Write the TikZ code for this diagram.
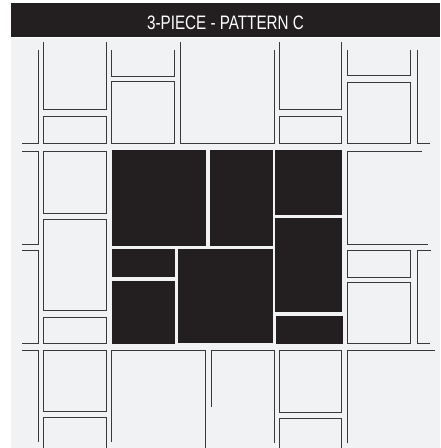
\documentclass[tikz,border=0pt]{standalone}
\usepackage{fontspec}
\newfontfamily\hdrfont[FakeStretch=0.78]{Liberation Sans}
\definecolor{bg}{HTML}{F1F2F4}
\definecolor{ink}{HTML}{231F20}
\definecolor{edge}{HTML}{3A3839}
\begin{document}
\begin{tikzpicture}[x=1pt,y=-1pt,
  tile/.style={draw=edge,line width=1.0pt,line join=miter},
  dark/.style={fill=ink},
  header/.style={anchor=base,text=white,inner sep=0pt,font={\hdrfont\fontsize{19.5}{20}\selectfont}}]
\useasboundingbox (0,0) rectangle (440,448);
\fill[white] (0,0) rectangle (440,448);
\fill[bg] (11,38) rectangle (440,448);
\fill[ink] (11,3) rectangle (440,36.7);
\node[header] (title) at (225.5,29) {3-PIECE - PATTERN C};

% ---------- top band ----------
\draw[tile] (38,50) -- (38,143) -- (22,143);
\draw[tile] (43,42) -- (43,109) -- (106,109) -- (106,42);
\draw[tile] (43,116) rectangle (106,143);
\draw[tile] (111,50) -- (111,76) -- (174,76) -- (174,50);
\draw[tile] (111,81) rectangle (174,143);
\draw[tile] (180,42) -- (180,143) -- (274,143) -- (274,50);
\draw[tile] (279,42) -- (279,109) -- (341,109) -- (341,42);
\draw[tile] (279,116) rectangle (341,143);
\draw[tile] (347,50) -- (347,75) -- (410,75) -- (410,50);
\draw[tile] (347,82) rectangle (410,143);
\draw[tile] (417,50) -- (417,143) -- (430,143);

% ---------- middle band ----------
\draw[tile] (22,151) -- (38,151) -- (38,244) -- (22,244);
\draw[tile] (43,151) rectangle (106,213);
\draw[tile] (43,219) rectangle (106,310);
\draw[tile] (43,317) rectangle (106,343);
\draw[tile] (22,250) -- (38,250) -- (38,343) -- (22,343);
\draw[tile] (422,151) -- (347,151) -- (347,244) -- (428,244);
\draw[tile] (347,250) rectangle (410,277);
\draw[tile] (347,282) rectangle (410,343);
\draw[tile] (431,250) -- (417,250) -- (417,343) -- (430,343);

\fill[dark] (112,150) rectangle (206,246);
\fill[dark] (210,150) rectangle (273,246);
\fill[dark] (275,150) rectangle (342,215);
\fill[dark] (275,218) rectangle (342,312);
\fill[dark] (276,316) rectangle (343,344);
\fill[dark] (112,249) rectangle (175,277);
\fill[dark] (112,281) rectangle (175,344);
\fill[dark] (178,249) rectangle (273,343);

% ---------- bottom band ----------
\draw[tile] (22,350) -- (38,350) -- (38,442);
\draw[tile] (43,350) rectangle (106,411);
\draw[tile] (43,448) -- (43,417) -- (106,417) -- (106,448);
\draw[tile] (111,442) -- (111,350) -- (205,350) -- (205,448);
\draw[tile] (211,407) -- (211,350) -- (274,350) -- (274,443);
\draw[tile] (279,350) rectangle (341,412);
\draw[tile] (279,448) -- (279,418) -- (341,418) -- (341,448);
\draw[tile] (347,443) -- (347,350) -- (435,350);
\end{tikzpicture}
\end{document}
